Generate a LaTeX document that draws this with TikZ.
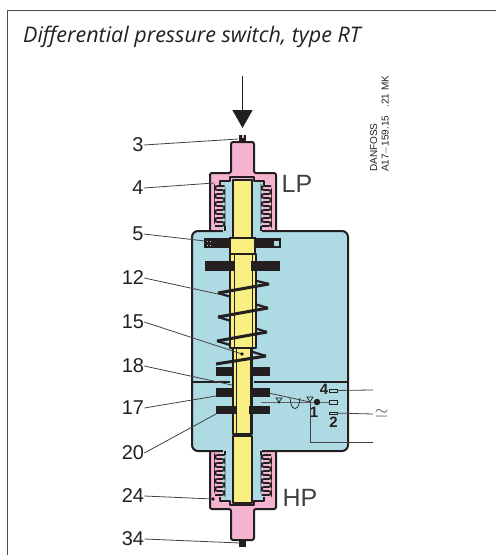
\documentclass[tikz,border=0pt]{standalone}
\usepackage{fontspec}
\setmainfont{Liberation Sans}
\newfontfamily\titlefont{Open Sans}
\usetikzlibrary{arrows.meta}
\definecolor{inkk}{HTML}{231F20}
\definecolor{pinkk}{HTML}{F4B3CF}
\definecolor{bluek}{HTML}{AEDAE3}
\definecolor{yellowk}{HTML}{F8EE82}
\tikzset{
	tag/.style={font=\fontsize{20}{20}\selectfont,text=inkk,inner sep=0pt},
	side/.style={font=\fontsize{25}{25}\selectfont,text=inkk!85,inner sep=0pt},
	term/.style={font=\fontsize{15}{15}\selectfont\bfseries,text=inkk,inner sep=0pt},
	lead/.style={draw=inkk!85,line width=0.8pt},
	wall/.style={draw=inkk,line width=2pt,line join=round},
	coil/.style={draw=inkk,line width=1.7pt,rounded corners=2.4pt},
	strand/.style={draw=inkk,line width=2.2pt},
	front/.style={draw=inkk,line width=3pt},
	bar/.style={fill=inkk},
	contact/.style={draw=inkk,fill=bluek,line width=0.8pt}
}
\begin{document}
\begin{tikzpicture}[x=1pt,y=-1pt]
	\useasboundingbox (0,0) rectangle (496,555);
	% frame
	\draw[inkk!80,line width=0.9pt] (496,10.5)--(7.5,10.5)--(7.5,555);
	\node[anchor=base west,inner sep=0pt,font=\titlefont\itshape\fontsize{21.5}{22}\selectfont,text=inkk] (title) at (23,42) {Differential pressure switch, type RT};
	\node[rotate=90,anchor=base west,inner sep=0pt,font=\fontsize{10}{10}\selectfont,text=inkk] (markA) at (377,172) {DANFOSS};
	\node[rotate=90,anchor=base west,inner sep=0pt,font=\fontsize{10}{10}\selectfont,text=inkk] (markB) at (388.5,172) {A17$-$159.15\hspace{8pt}.21 MK};

	% housings
	\draw[wall,fill=pinkk,rounded corners=2pt] (239,142)--(231,142)--(231,173)--(210,173)--(210,235)--(276,235)--(276,173)--(254,173)--(254,142)--cycle;
	\draw[wall,fill=pinkk,rounded corners=2pt] (210,445)--(210,509)--(231,509)--(231,540)--(254,540)--(254,509)--(276,509)--(276,445)--cycle;
	\fill[inkk] (239,135) rectangle (246,142);
	\fill[pinkk] (241.5,135) rectangle (243.5,138);
	\fill[inkk] (239,540) rectangle (246,547);
	\fill[bluek] (222,181) rectangle (263,231);
	\fill[bluek] (222,451) rectangle (263,501);

	% main body
	\draw[wall,fill=bluek,rounded corners=6pt] (192,231)--(192,451)--(348,451)--(348,231)--cycle;
	\fill[bluek] (223,228) rectangle (262,233);
	\fill[bluek] (223,449) rectangle (262,453);
	\draw[wall] (192,382)--(230,382);
	\draw[wall] (254,382)--(348,382);

	% bellows
	\foreach \xa/\xb in {215/224.5,261.5/271}{
		\draw[coil] (\xb,186) \foreach \k in {0,...,4}{ --(\xa,186+8*\k)--(\xa,190+8*\k)--(\xb,190+8*\k)--(\xb,194+8*\k) } --(\xa,226);
		\draw[coil] (\xb,455) \foreach \k in {0,...,4}{ --(\xa,455+8*\k)--(\xa,459+8*\k)--(\xb,459+8*\k)--(\xb,463+8*\k) } --(\xa,495);
	}
	\draw[wall] (220,185)--(220,181)--(230,181)--(230,177)--(254,177)--(254,181)--(264,181)--(264,185);
	\draw[wall] (220,497)--(220,501)--(230,501)--(230,505)--(254,505)--(254,501)--(264,501)--(264,497);
	\draw[wall] (225,226)--(225,231);
	\draw[wall] (261,226)--(261,231);
	\draw[wall] (225,451)--(225,455);
	\draw[wall] (261,451)--(261,455);

	% spring, back strands
	\draw[strand] (255,280.5)--(269,284);
	\draw[strand] (218,293)--(268,308);
	\draw[strand] (218,317)--(267,332);
	\draw[strand] (217,341)--(266,356);

	% leader that runs behind the rod
	\node[tag] (p18) at (133,366) {18};
	\coordinate (e18) at (310,402);
	\draw[lead] (p18.east)--(e18);

	% rod
	\draw[wall,fill=yellowk] (233,180)--(252,180)--(252,238)--(233,238)--cycle;
	\draw[wall,fill=yellowk] (233,348)--(252,348)--(252,434)--(233,434)--cycle;
	\draw[inkk,line width=0.6pt] (236,348)--(236,434);
	\draw[inkk,line width=0.6pt] (250,348)--(250,434);
	\draw[wall,fill=yellowk] (233,436)--(252,436)--(252,503)--(233,503)--cycle;
	\draw[wall,fill=yellowk] (230,254)--(256,254)--(256,348)--(230,348)--cycle;
	\draw[inkk,line width=0.6pt] (234,254)--(234,348);
	\draw[inkk,line width=0.6pt] (252,254)--(252,348);

	% plates
	\fill[bar] (204,238) rectangle (281,248);
	\draw[line width=1.5pt,draw=inkk,fill=yellowk] (230,238) rectangle (255,254);
	\fill[bluek] (274,240.5) rectangle (279,245.5);
	\foreach \dx/\dy in {207/241,210/241,207/245,210/245}{
		\fill[bluek] (\dx,\dy) rectangle (\dx+1,\dy+1);
	}
	\fill[bar] (205,261) rectangle (234,271);
	\fill[bar] (251,261) rectangle (280,271);
	\fill[bar] (216,367) rectangle (233,376);
	\fill[bar] (253,367) rectangle (270,376);
	\fill[bar] (216,388) rectangle (233,397);
	\fill[bar] (253,388) rectangle (270,397);
	\fill[bar] (216,406) rectangle (236,414);
	\fill[bar] (249,406) rectangle (270,414);

	% spring, front strands
	\draw[front] (269,284)--(218,293);
	\draw[front] (268,308)--(218,317);
	\draw[front] (267,332)--(217,341);
	\draw[front] (266,356)--(216,364);

	% switch
	\draw[inkk!70,line width=1pt] (261,402)--(330,402);
	\node[contact,minimum width=8pt,minimum height=3pt,inner sep=0pt] (cfour) at (333,390.5) {};
	\node[contact,minimum width=8pt,minimum height=4pt,inner sep=0pt] (cone) at (333,402) {};
	\node[contact,minimum width=8pt,minimum height=2pt,inner sep=0pt] (ctwo) at (333,413) {};
	\node[circle,fill=inkk,minimum size=6.5pt,inner sep=0pt] (pivot) at (317,402) {};
	\node[circle,fill=inkk,minimum size=3pt,inner sep=0pt] (pinA) at (279,402) {};
	\coordinate (pinB) at (310,402);
	\draw[inkk,line width=0.7pt] (290,398)--(291,404)..controls (292,410) and (298,410) .. (299,404)--(300,398);
	\draw[inkk,line width=0.7pt] (276,398)--(282,398)--(279,402)--cycle;
	\draw[inkk,line width=0.7pt] (307,397)--(313,397)--(310,402)--cycle;
	\node[term] (nfour) at (324,389.5) {4};
	\node[term] (none) at (314,412.5) {1};
	\node[term] (ntwo) at (333.5,422) {2};
	\coordinate (outfour) at (373,390);
	\coordinate (outtwo) at (373,414);
	\coordinate (outone) at (373,442);
	\coordinate (cornerone) at (310,442);
	\draw[lead] (cfour)--(outfour);
	\draw[lead] (ctwo)--(outtwo);
	\draw[lead] (pinB)--(cornerone)--(outone);
	\node[inner sep=0pt,font=\fontsize{17}{17}\selectfont,text=inkk!80] (mains) at (381.5,413) {$\simeq$};

	% load arrow
	\coordinate (loadA) at (242.5,76);
	\coordinate (loadB) at (242.5,128);
	\draw[inkk,line width=1.8pt,-{Triangle[length=18pt,width=20pt]}] (loadA)--(loadB);
	\node[side] (lp) at (297,184) {LP};
	\node[side] (hp) at (300,498) {HP};

	% part numbers
	\node[tag] (p3) at (138,145) {3};
	\node[tag] (p4) at (138,188) {4};
	\node[tag] (p5) at (138,234) {5};
	\node[tag] (p12) at (133,278) {12};
	\node[tag] (p15) at (133,322) {15};
	\node[tag] (p17) at (133,408) {17};
	\node[tag] (p20) at (133,453) {20};
	\node[tag] (p24) at (133,496) {24};
	\node[tag] (p34) at (133,539) {34};
	\coordinate (e3) at (238,139);
	\coordinate (e4) at (214,183);
	\coordinate (e5) at (205,241);
	\coordinate (e12) at (218,294);
	\coordinate (e15) at (242,354);
	\coordinate (e17) at (216,396);
	\coordinate (e20) at (216,414);
	\coordinate (e24) at (213,499);
	\coordinate (e34) at (240,543);
	\draw[lead] (p3.east)--(e3);
	\draw[lead] (p4.east)--(e4);
	\draw[lead] (p5.east)--(e5);
	\draw[lead] (p12.east)--(e12);
	\draw[lead] (p15.east)--(e15);
	\draw[lead] (p17.east)--(e17);
	\draw[lead] (p20.east)--(e20);
	\draw[lead] (p24.east)--(e24);
	\draw[lead] (p34.east)--(e34);
	\fill[inkk] (e15) circle (1.8);
	\fill[inkk] (e24) circle (1.8);
\end{tikzpicture}
\end{document}
